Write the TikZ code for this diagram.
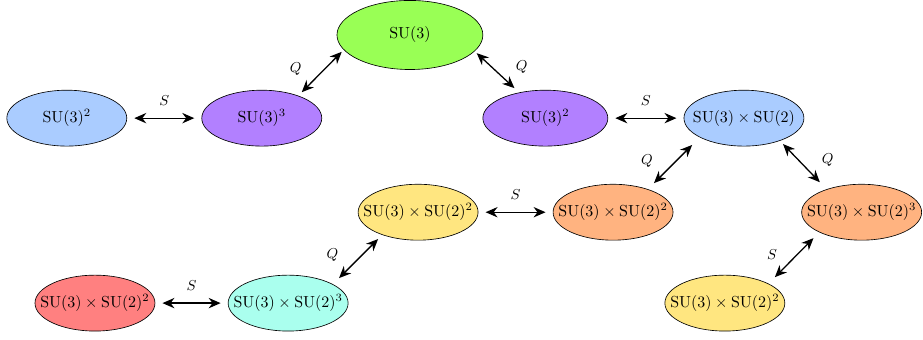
\documentclass[tikz,border=0pt]{standalone}
\usetikzlibrary{arrows.meta,shapes.geometric}
\definecolor{grpgreen}{RGB}{153,255,85}
\definecolor{grpblue}{RGB}{170,204,255}
\definecolor{grppurple}{RGB}{178,128,255}
\definecolor{grpyellow}{RGB}{255,230,128}
\definecolor{grporange}{RGB}{255,179,128}
\definecolor{grpred}{RGB}{255,128,128}
\definecolor{grpcyan}{RGB}{170,255,238}
\begin{document}
\begin{tikzpicture}[
    grp/.style={ellipse, draw, inner xsep=-10pt, minimum width=2.64cm, minimum height=1.23cm},
    link/.style={<->, >={Stealth[length=7.5pt,width=6.5pt]}, thick},
    gap/.style={shorten <=4.5pt, shorten >=4.5pt},
    lbl/.style={font=\small, yshift=2pt}
  ]
      \useasboundingbox (0,0) rectangle (20.31,7.46);
      \draw
        (9.02,6.69) node[grp, fill=grpgreen, minimum width=3.21cm, minimum height=1.52cm] (0){$\mathrm{SU}(3)$}
        (1.47,4.86) node[grp, fill=grpblue] (1){$\mathrm{SU}(3)^2$}
        (5.76,4.86) node[grp, fill=grppurple] (2){$\mathrm{SU}(3)^3$}
        (12.00,4.86) node[grp, fill=grppurple, minimum width=2.75cm] (3){$\mathrm{SU}(3)^2$}
        (16.37,4.86) node[grp, fill=grpblue] (4){$\mathrm{SU}(3)\times\mathrm{SU}(2)$}
        (9.20,2.79) node[grp, fill=grpyellow] (5){$\mathrm{SU}(3)\times\mathrm{SU}(2)^2$}
        (13.49,2.79) node[grp, fill=grporange] (6){$\mathrm{SU}(3)\times\mathrm{SU}(2)^2$}
        (18.96,2.79) node[grp, fill=grporange] (7){$\mathrm{SU}(3)\times\mathrm{SU}(2)^3$}
        (2.09,0.79) node[grp, fill=grpred] (8){$\mathrm{SU}(3)\times\mathrm{SU}(2)^2$}
        (6.34,0.79) node[grp, fill=grpcyan] (9){$\mathrm{SU}(3)\times\mathrm{SU}(2)^3$}
        (15.95,0.79) node[grp, fill=grpyellow] (10){$\mathrm{SU}(3)\times\mathrm{SU}(2)^2$};
      \begin{scope}[link]
        \draw[gap] (1) to node[lbl, above=2pt]{$S$} (2);
        \draw[gap] (3) to node[lbl, above=2pt]{$S$} (4);
        \draw[gap] (5) to node[lbl, above=2pt]{$S$} (6);
        \draw[gap] (8) to node[lbl, above=2pt]{$S$} (9);
        \draw ([shift={(0.88,0.57)}]2.center) to node[lbl, left=9pt]{$Q$} ([shift={(-1.50,-0.37)}]0.center);
        \draw ([shift={(1.47,-0.40)}]0.center) to node[lbl, right=9pt]{$Q$} ([shift={(-0.68,0.66)}]3.center);
        \draw ([shift={(-1.14,-0.59)}]4.center) to node[lbl, left=9pt]{$Q$} ([shift={(0.90,0.64)}]6.center);
        \draw ([shift={(0.86,-0.57)}]4.center) to node[lbl, right=9pt]{$Q$} ([shift={(-0.92,0.66)}]7.center);
        \draw ([shift={(1.12,0.55)}]9.center) to node[lbl, left=9pt]{$Q$} ([shift={(-0.88,-0.59)}]5.center);
        \draw ([shift={(1.10,0.57)}]10.center) to node[lbl, left=7pt]{$S$} ([shift={(-1.06,-0.57)}]7.center);
      \end{scope}
    \end{tikzpicture}
\end{document}
